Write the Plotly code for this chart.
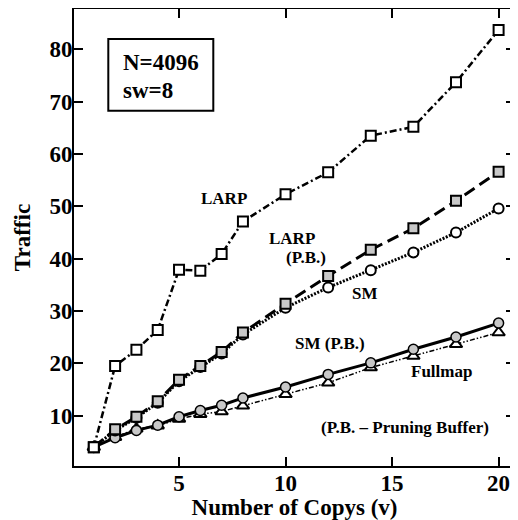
import plotly.graph_objects as go

copies = [1, 2, 3, 4, 5, 6, 7, 8, 10, 12, 14, 16, 18, 20]
larp = [4.0, 19.5, 22.6, 26.4, 37.9, 37.7, 40.9, 47.1, 52.3, 56.5, 63.5, 65.2, 73.7, 83.7]
larp_pb = [4.0, 7.4, 9.8, 12.75, 16.9, 19.5, 22.2, 25.9, 31.4, 36.7, 41.7, 45.8, 51.05, 56.6]
sm = [4.0, 7.2, 9.6, 12.5, 16.6, 19.3, 21.9, 25.5, 30.65, 34.5, 37.8, 41.2, 45.0, 49.6]
sm_pb = [4.0, 5.8, 7.2, 8.2, 9.8, 11.0, 12.0, 13.4, 15.5, 17.9, 20.1, 22.7, 25.05, 27.7]
fullmap = [4.0, 5.9, 7.5, 8.1, 9.4, 10.3, 10.8, 11.9, 14.1, 16.3, 19.2, 21.4, 23.65, 25.9]

x_ticks = [5, 10, 15, 20]
y_ticks = [10, 20, 30, 40, 50, 60, 70, 80]

GRAY = "#c8c8c8"
FONT = "Liberation Serif"

# page has an 8px body margin; figure is shifted by (8, 8)
PL, PR, PT, PB_ = 74, 515, 9, 466  # plot area in page pixels


def px2paper_x(px):
    return (px - PL) / (PR - PL)


def px2paper_y(py):
    return (PB_ - py) / (PB_ - PT)


fig = go.Figure()

fig.add_trace(go.Scatter(
    x=copies, y=fullmap, mode="lines+markers", name="Fullmap",
    line=dict(color="black", width=1.5, dash="5px,2px,1.5px,2px,1.5px,2px"),
    marker=dict(symbol="triangle-up", size=11, color="white",
                line=dict(color="black", width=2)),
))
fig.add_trace(go.Scatter(
    x=copies, y=sm_pb, mode="lines+markers", name="SM (P.B.)",
    line=dict(color="black", width=3),
    marker=dict(symbol="circle", size=10, color=GRAY,
                line=dict(color="black", width=1.5)),
))
fig.add_trace(go.Scatter(
    x=copies, y=sm, mode="lines+markers", name="SM",
    line=dict(color="black", width=3, dash="2px,1.5px"),
    marker=dict(symbol="circle", size=10, color="white",
                line=dict(color="black", width=2)),
))
fig.add_trace(go.Scatter(
    x=copies, y=larp_pb, mode="lines+markers", name="LARP (P.B.)",
    line=dict(color="black", width=3, dash="12px,6px"),
    marker=dict(symbol="square", size=10, color=GRAY,
                line=dict(color="black", width=2)),
))
fig.add_trace(go.Scatter(
    x=copies, y=larp, mode="lines+markers", name="LARP",
    line=dict(color="black", width=2.5, dash="7px,3px,2px,3px"),
    marker=dict(symbol="square", size=10, color="white",
                line=dict(color="black", width=2)),
))

ann_font = dict(family=FONT, size=17, color="black", weight="bold")
labels = [
    ("LARP", 224, 198.5),
    ("LARP", 292, 238),
    ("(P.B.)", 306, 257),
    ("SM", 364.5, 293),
    ("SM (P.B.)", 329.7, 343),
    ("Fullmap", 441.3, 371.7),
    ("(P.B. – Pruning Buffer)", 405, 427.7),
]
for txt, px, py in labels:
    fig.add_annotation(x=px2paper_x(px), y=px2paper_y(py), xref="paper", yref="paper",
                       text=txt, showarrow=False, font=ann_font,
                       xanchor="center", yanchor="middle")

# info box
fig.add_shape(type="rect", xref="paper", yref="paper",
              x0=px2paper_x(108.3), x1=px2paper_x(213.3),
              y0=px2paper_y(110.7), y1=px2paper_y(39),
              line=dict(color="black", width=2), fillcolor="white")
box_font = dict(family=FONT, size=23, color="black", weight="bold")
fig.add_annotation(x=px2paper_x(121), y=px2paper_y(62), xref="paper", yref="paper",
                   text="N=4096", showarrow=False, xanchor="left", yanchor="middle",
                   font=box_font)
fig.add_annotation(x=px2paper_x(121), y=px2paper_y(90.5), xref="paper", yref="paper",
                   text="sw=8", showarrow=False, xanchor="left", yanchor="middle",
                   font=box_font)

axis_common = dict(
    showgrid=False, zeroline=False, showline=True, linecolor="black", linewidth=2,
    mirror="ticks", ticks="inside", ticklen=9, tickwidth=2, tickcolor="black",
    ticklabelstandoff=-5,
    tickfont=dict(family=FONT, size=23, color="black", weight="bold"),
)
fig.update_xaxes(range=[0.07, 20.77], tickvals=x_ticks, ticktext=[str(v) for v in x_ticks],
                 title=dict(text="Number of Copys (v)", standoff=3,
                            font=dict(family=FONT, size=23, color="black", weight="bold")),
                 **axis_common)
fig.update_yaxes(range=[0.4, 87.7], tickvals=y_ticks, ticktext=[str(v) for v in y_ticks],
                 title=dict(text="Traffic", standoff=12,
                            font=dict(family=FONT, size=23, color="black", weight="bold")),
                 **axis_common)

W, H = 510, 512
fig.update_layout(
    width=W, height=H,
    margin=dict(l=PL - 8, r=W - (PR - 8), t=PT - 8, b=H - (PB_ - 8), autoexpand=False),
    paper_bgcolor="white", plot_bgcolor="white",
    showlegend=False,
    font=dict(family=FONT, color="black"),
)

fig.write_html("out.html")
